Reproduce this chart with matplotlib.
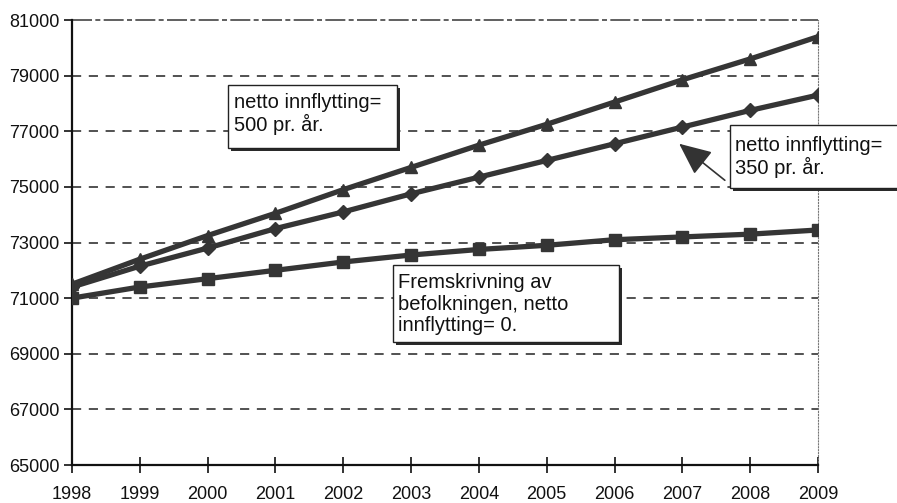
import matplotlib
matplotlib.use("Agg")
import matplotlib.pyplot as plt
from matplotlib.patches import Rectangle, FancyArrowPatch

years = [1998, 1999, 2000, 2001, 2002, 2003, 2004, 2005, 2006, 2007, 2008, 2009]
netto_500 = [71500, 72400, 73250, 74050, 74900, 75700, 76500, 77250, 78050, 78850, 79600, 80400]
netto_350 = [71400, 72150, 72800, 73500, 74100, 74750, 75350, 75950, 76550, 77150, 77750, 78300]
netto_0 = [71000, 71400, 71700, 72000, 72300, 72550, 72750, 72900, 73100, 73200, 73300, 73450]
yticks = [65000, 67000, 69000, 71000, 73000, 75000, 77000, 79000, 81000]
label_500 = "netto innflytting=\n500 pr. år."
label_350 = "netto innflytting=\n350 pr. år."
label_0 = "Fremskrivning av\nbefolkningen, netto\ninnflytting= 0."

plt.rcParams['font.family'] = ['Liberation Sans', 'DejaVu Sans']
W, H = 897, 503
fig = plt.figure(figsize=(W / 100, H / 100), dpi=100)
ax = fig.add_axes([72 / W, 1 - 465 / H, (818 - 72) / W, (465 - 20) / H])

lc = '#353535'
ax.plot(years, netto_500, color=lc, lw=3.8, marker='^', ms=9, zorder=3)
ax.plot(years, netto_350, color=lc, lw=3.8, marker='D', ms=7, zorder=3)
ax.plot(years, netto_0, color=lc, lw=3.8, marker='s', ms=8, zorder=3)

ax.set_xlim(1998, 2009)
ax.set_ylim(65000, 81000)
ax.set_xticks(years)
ax.set_yticks(yticks)
ax.set_yticklabels([str(v) for v in yticks])
for v in yticks[1:-1]:
    ax.axhline(v, color='#222222', lw=1.1, ls=(0, (6, 5)), zorder=1)
ax.axhline(yticks[-1], color='#444444', lw=1.2, ls=(0, (12, 2, 3, 2)), zorder=1, clip_on=False)
ax.spines['top'].set_visible(False)
ax.spines['right'].set_linestyle(':')
ax.spines['right'].set_color('#777777')
ax.spines['left'].set_linewidth(1.6)
ax.spines['bottom'].set_linewidth(1.6)
ax.spines['left'].set_color('#111111')
ax.spines['bottom'].set_color('#111111')
ax.tick_params(axis='x', direction='inout', length=12, width=1.2, labelsize=13, colors='#111111', pad=9)
ax.tick_params(axis='y', direction='out', length=6, width=1.2, labelsize=13, colors='#111111', pad=3)

def fx(px):
    return px / W

def fy(py):
    return 1 - py / H

def note(x0, y0, x1, y1, tx, ty, txt):
    # shadow
    fig.patches.append(Rectangle((fx(x0 + 3), fy(y1 + 3)), fx(x1 - x0), (y1 - y0) / H,
                                 transform=fig.transFigure, fc='#2a2a2a', ec='none', zorder=4))
    fig.patches.append(Rectangle((fx(x0), fy(y1)), fx(x1 - x0), (y1 - y0) / H,
                                 transform=fig.transFigure, fc='white', ec='#222222', lw=1, zorder=5))
    fig.text(fx(tx), fy(ty), txt, fontsize=14.5, va='center', ha='left', linespacing=1.15,
             color='#111111', zorder=6)

note(228, 85, 397, 148, 234, 114, label_500)
note(730, 125, 905, 188, 735, 157, label_350)
note(393, 265, 619, 342, 398, 304, label_0)

fig.patches.append(FancyArrowPatch(
    (fx(727), fy(182)), (fx(677), fy(142)), transform=fig.transFigure,
    arrowstyle='-|>,head_length=20,head_width=9', color='#333333', lw=1.2, mutation_scale=1,
    zorder=6))

fig.savefig('out.png', dpi=100)
